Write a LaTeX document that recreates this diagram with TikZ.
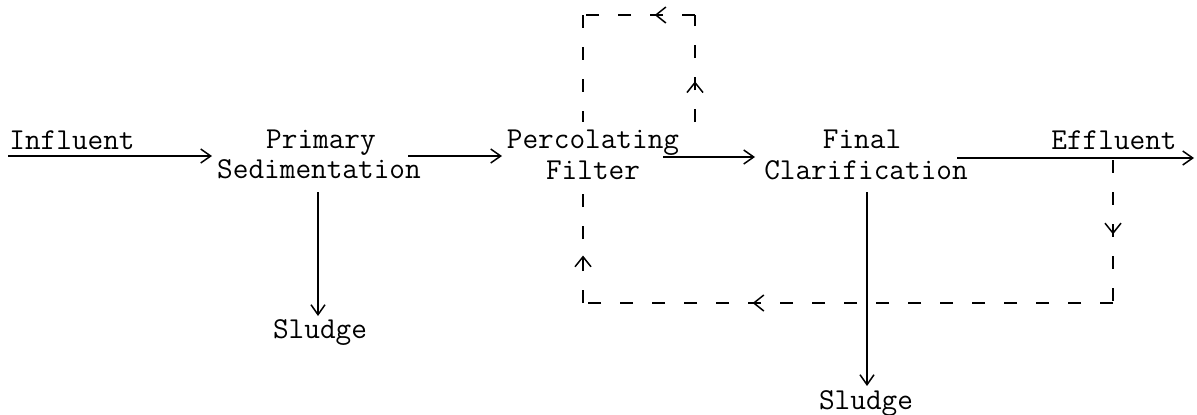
\documentclass[tikz,border=0pt]{standalone}
\usepackage{fontspec}
\usetikzlibrary{arrows.meta,decorations.markings}
\tikzset{
  lbl/.style={font=\ttfamily\fontsize{15.2}{17}\selectfont, inner sep=0pt, anchor=base},
  flow/.style={line width=0.75pt, -{Straight Barb[length=5pt,width=7pt,line width=0.75pt]}},
  rec/.style={line width=1pt, dash pattern=on 6.5pt off 9.5pt},
  midarr/.style={postaction={decorate}, decoration={markings,
     mark=at position #1 with {\arrow[solid,line width=0.75pt]{Straight Barb[length=5pt,width=8pt]}}}}
}
\begin{document}
\begin{tikzpicture}[x=0.5pt,y=-0.5pt]
\useasboundingbox (0,0) rectangle (1197,414);
% texts
\node[lbl] (infl) at (72,149) {Influent};
\node[lbl] (prim1) at (321,148) {Primary};
\node[lbl] (prim2) at (319,178) {Sedimentation};
\node[lbl] (perc1) at (593,148) {Percolating};
\node[lbl] (perc2) at (593,179) {Filter};
\node[lbl] (fin1) at (862,148) {Final};
\node[lbl] (fin2) at (866,179) {Clarification};
\node[lbl] (effl) at (1114,149) {Effluent};
\node[lbl] (sl1) at (320,338) {Sludge};
\node[lbl] (sl2) at (866,409) {Sludge};
% coordinates
\coordinate (a0) at (8,156);
\coordinate (a1) at (212,156);
\coordinate (b0) at (408,156);
\coordinate (b1) at (502,156);
\coordinate (c0) at (663,157);
\coordinate (c1) at (755,157);
\coordinate (d0) at (957,158);
\coordinate (d1) at (1194,158);
\coordinate (e0) at (318,192);
\coordinate (e1) at (318,316);
\coordinate (f0) at (867,192);
\coordinate (f1) at (867,386);
% main flow
\draw[flow] (a0) -- (a1);
\draw[flow] (b0) -- (b1);
\draw[flow] (c0) -- (c1);
\draw[flow] (d0) -- (d1);
\draw[flow] (e0) -- (e1);
\draw[flow] (f0) -- (f1);
% recirculation loops
\coordinate (t0) at (695,122);
\coordinate (t1) at (695,15);
\coordinate (t2) at (583,15);
\coordinate (t3) at (583,122);
\draw[rec,midarr=0.38] (t0) -- (t1);
\draw[rec,midarr=0.36] (t1) -- (t2);
\draw[rec] (t2) -- (t3);
\coordinate (r0) at (1113,160);
\coordinate (r1) at (1113,303);
\coordinate (r2) at (583,303);
\coordinate (r3) at (583,190);
\draw[rec,midarr=0.52] (r0) -- (r1);
\draw[rec,midarr=0.68] (r1) -- (r2);
\draw[rec,midarr=0.42] (r2) -- (r3);
\end{tikzpicture}
\end{document}
